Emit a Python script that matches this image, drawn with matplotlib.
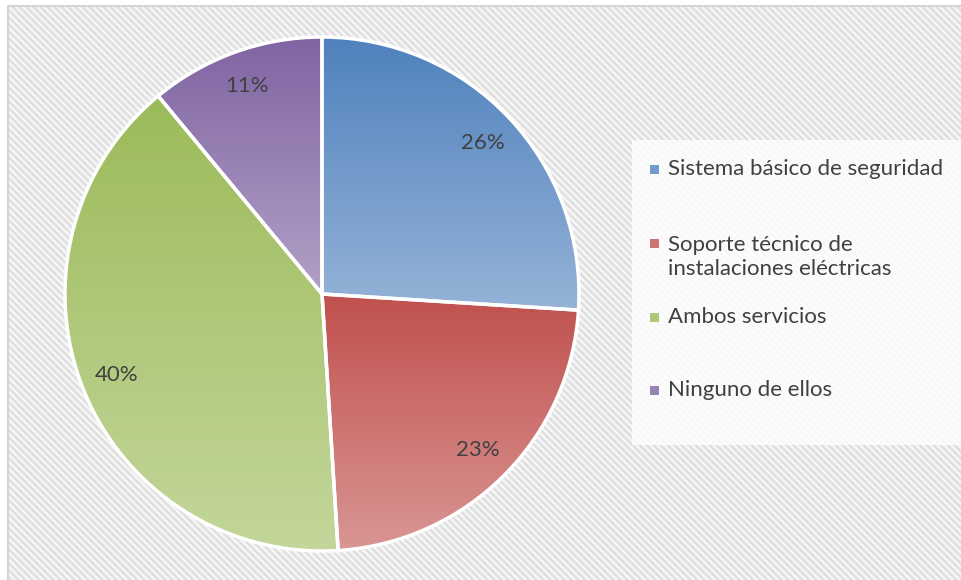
import numpy as np
import matplotlib.pyplot as plt
from matplotlib.colors import LinearSegmentedColormap
from matplotlib.patches import Rectangle
from matplotlib.lines import Line2D

plt.rcParams['font.family'] = ['Lato', 'DejaVu Sans']

# Survey answers (percent)
categories = ["Sistema básico de seguridad",
              "Soporte técnico de\ninstalaciones eléctricas",
              "Ambos servicios",
              "Ninguno de ellos"]
shares = [26, 23, 40, 11]

# top / bottom colours of each slice gradient
top_colors = ["#4f81bd", "#c0504d", "#9bbb59", "#8064a2"]
bottom_colors = ["#95b3d7", "#d99694", "#c3d69b", "#b2a1c7"]
text_color = "#404040"

W, H = 961, 580
fig = plt.figure(figsize=(W / 100, H / 100), dpi=100)
fig.patch.set_facecolor("white")


def fx(px):
    return px / W


def fy(py):
    return 1 - py / H


# striped chart-area background
bg = fig.add_axes([fx(8), 0, 1 - fx(8), fy(6)])
bg.set_axis_off()
bw, bh = W - 8, H - 6
yy, xx = np.mgrid[0:bh, 0:bw]
stripes = 0.92 + 0.055 * np.cos(2 * np.pi * (xx - yy) / 7.0)
bg.imshow(stripes, cmap="gray", vmin=0, vmax=1, aspect="auto",
          extent=(0, bw, bh, 0), interpolation="bilinear")
bg.set_xlim(0, bw)
bg.set_ylim(bh, 0)
# chart border (left and top edges fall inside the image)
fig.add_artist(Line2D([fx(8), fx(8), 1], [0, fy(6), fy(6)],
                      transform=fig.transFigure, color="#d4d4d4", linewidth=1.5))

# pie: centre (322, 294) px, radius 257 px
r_px = 257
side = 2 * r_px * 1.25
ax = fig.add_axes([fx(322 - side / 2), fy(294 + side / 2), side / W, side / H])
wedges, texts, autotexts = ax.pie(
    shares, startangle=90, counterclock=False, radius=1,
    autopct="%1.0f%%", pctdistance=0.86,
    textprops=dict(color=text_color, fontsize=16),
    wedgeprops=dict(edgecolor="white", linewidth=2.5))

grad = np.linspace(0, 1, 256).reshape(-1, 1)
for w, c0, c1 in zip(wedges, top_colors, bottom_colors):
    x0, y0, x1, y1 = w.get_path().get_extents().extents
    cmap = LinearSegmentedColormap.from_list("g", [c0, c1])
    im = ax.imshow(grad, cmap=cmap, extent=(x0, x1, y0, y1), origin="upper",
                   aspect="auto", zorder=0.5, interpolation="bilinear")
    im.set_clip_path(w)
    w.set_facecolor("none")
    w.set_zorder(1)
for t in autotexts:
    t.set_zorder(3)
ax.set_xlim(-1.25, 1.25)
ax.set_ylim(-1.25, 1.25)

# legend panel
fig.add_artist(Rectangle((fx(632), fy(445)), 1 - fx(632), (445 - 140) / H,
                         transform=fig.transFigure, facecolor="white",
                         edgecolor="none", alpha=0.8))
entry_y = [169, 257, 317, 390]
marker_y = [169, 244, 317, 390]
for label, ty, my, c0, c1 in zip(categories, entry_y, marker_y, top_colors, bottom_colors):
    mid = LinearSegmentedColormap.from_list("m", [c0, c1])(0.5)
    fig.add_artist(Rectangle((fx(650), fy(my + 4.5)), 9 / W, 9 / H,
                             transform=fig.transFigure, facecolor=mid,
                             edgecolor="none"))
    fig.text(fx(668), fy(ty), label, color=text_color, fontsize=16,
             ha="left", va="center", linespacing=1.3)

fig.savefig("out.png", dpi=100)
